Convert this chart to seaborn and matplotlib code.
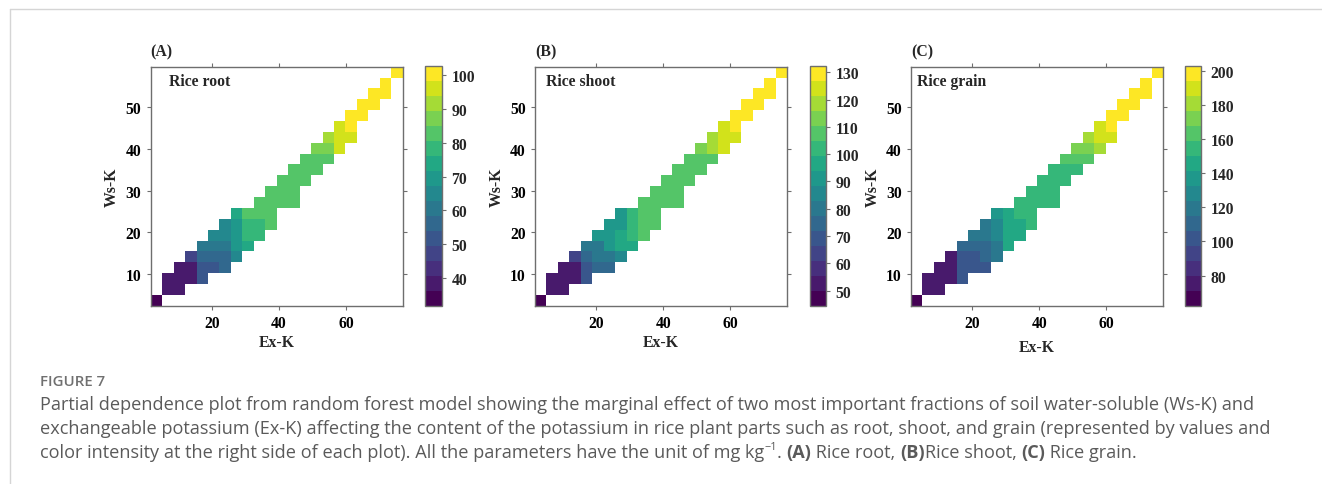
import numpy as np
import pandas as pd
import matplotlib
matplotlib.use("Agg")
import matplotlib.pyplot as plt
from matplotlib.lines import Line2D
import seaborn as sns

# ---------------- data ----------------
# Partial-dependence grid (cell centres)
ex_k = [3.5, 6.9, 10.3, 13.7, 17.1, 20.5, 24.0, 27.4, 30.8, 34.2, 37.6,
        41.0, 44.4, 47.9, 51.3, 54.7, 58.1, 61.5, 64.9, 68.4, 71.8, 75.2]
ws_k = [3.7, 6.3, 8.9, 11.5, 14.1, 16.7, 19.3, 21.9, 24.6, 27.2, 29.8,
        32.4, 35.0, 37.6, 40.2, 42.8, 45.4, 48.0, 50.6, 53.3, 55.9, 58.5]
# first Ex-K grid index that holds a value, for each Ws-K row (bottom to top)
row_start = [0, 1, 1, 2, 3, 4, 5, 6, 7, 9, 10, 11, 12, 13, 14, 15, 16, 17, 18, 19, 20, 21]

root_rows = [
    [31.8],
    [38.5, 38.8],
    [38.6, 38.9, 39.2, 51.5],
    [39.5, 40.0, 51.8, 52.3, 56.0],
    [47.0, 55.8, 56.2, 56.5, 65.0],
    [60.2, 60.5, 60.9, 69.0, 74.0],
    [64.8, 65.2, 69.5, 78.5, 79.0],
    [65.5, 69.8, 79.2, 79.6, 82.0],
    [73.5, 82.2, 82.4, 82.6],
    [82.5, 82.7, 82.8, 83.0],
    [82.8, 83.0, 83.2],
    [83.0, 83.2, 83.4],
    [83.3, 83.5, 83.7],
    [83.6, 83.8, 84.0],
    [87.0, 87.5, 96.0],
    [91.5, 95.5, 96.5],
    [96.8, 100.0],
    [100.2, 100.5],
    [100.6, 100.9],
    [101.2, 101.5],
    [101.9],
    [102.6],
]
shoot_rows = [
    [44.5],
    [52.5, 53.0],
    [53.0, 53.5, 54.0, 69.0],
    [54.0, 54.5, 69.5, 74.5, 75.0],
    [63.5, 74.8, 80.0, 80.5, 86.0],
    [80.0, 80.5, 91.0, 96.0, 97.0],
    [90.5, 91.0, 96.5, 102.0, 107.5],
    [91.5, 92.0, 102.5, 107.8, 108.0],
    [92.5, 103.0, 108.2, 108.4],
    [108.0, 108.3, 108.6, 108.9],
    [108.5, 108.8, 109.0],
    [108.8, 109.0, 109.3],
    [109.0, 109.3, 109.6],
    [109.3, 109.6, 109.9],
    [113.0, 118.5, 124.0],
    [119.0, 124.2, 124.5],
    [124.8, 129.0],
    [129.3, 129.6],
    [129.9, 130.2],
    [130.5, 130.9],
    [131.4],
    [132.2],
]
grain_rows = [
    [62.4],
    [75.0, 75.5],
    [75.5, 76.0, 76.5, 101.0],
    [76.5, 77.0, 101.5, 102.0, 102.5],
    [77.5, 102.5, 103.0, 110.5, 119.0],
    [110.0, 110.5, 111.0, 119.5, 145.0],
    [119.0, 119.5, 128.0, 145.5, 146.0],
    [120.0, 128.5, 146.0, 146.5, 154.0],
    [137.0, 146.5, 154.5, 155.0],
    [154.0, 154.5, 155.0, 155.5],
    [155.0, 155.5, 156.0],
    [155.5, 156.0, 156.5],
    [156.0, 156.5, 157.0],
    [162.0, 162.5, 163.0],
    [171.0, 172.0, 180.5],
    [181.0, 189.0, 189.5],
    [190.0, 197.0],
    [197.5, 198.0],
    [198.5, 199.0],
    [199.5, 200.5],
    [201.5],
    [202.5],
]

panel_tags = ["(A)", "(B)", "(C)"]
panel_names = ["Rice root", "Rice shoot", "Rice grain"]
x_ticks = [20, 40, 60]
y_ticks = [10, 20, 30, 40, 50]
cbar_ticks = [[40, 50, 60, 70, 80, 90, 100],
              [50, 60, 70, 80, 90, 100, 110, 120, 130],
              [80, 100, 120, 140, 160, 180, 200]]

# ---------------- layout ----------------
W, H = 1322, 485
sns.set_theme(style="white")
plt.rcParams['font.family'] = ['Liberation Serif', 'DejaVu Serif']

fig = plt.figure(figsize=(W / 100, H / 100), dpi=100)
fig.patch.set_facecolor("white")


def rect(l, t, r, b):
    return [l / W, 1 - b / H, (r - l) / W, (b - t) / H]


plot_px = [(150.7, 67.7, 402.7, 306.7), (535.0, 67.7, 787.0, 306.7), (911.0, 67.7, 1163.0, 306.7)]
cbar_px = [(425.0, 67.3, 442.0, 306.7), (810.3, 67.3, 826.3, 306.7), (1185.3, 67.3, 1201.3, 306.7)]
name_x = [0.071, 0.045, 0.025]
xlabel_pad = [2.0, 2.0, 6.0]

cmap = matplotlib.colormaps['viridis'].resampled(16)
frame_col = "#6e6e6e"
FS = 11.3

for i, rows in enumerate([root_rows, shoot_rows, grain_rows]):
    grid = np.full((len(ws_k), len(ex_k)), np.nan)
    for j, (s, vals) in enumerate(zip(row_start, rows)):
        grid[j, s:s + len(vals)] = vals
    df = pd.DataFrame(grid, index=ws_k, columns=ex_k)

    ax = fig.add_axes(rect(*plot_px[i]))
    cax = fig.add_axes(rect(*cbar_px[i]))
    sns.heatmap(df, ax=ax, cbar_ax=cax, cmap=cmap,
                vmin=np.nanmin(grid), vmax=np.nanmax(grid),
                xticklabels=False, yticklabels=False, linewidths=0)
    ax.invert_yaxis()

    xpos = np.interp(x_ticks, ex_k, np.arange(len(ex_k)) + 0.5)
    ypos = np.interp(y_ticks, ws_k, np.arange(len(ws_k)) + 0.5)
    ax.set_xticks(xpos, [str(v) for v in x_ticks], fontweight="bold", fontsize=FS)
    ax.set_yticks(ypos, [str(v) for v in y_ticks], fontweight="bold", fontsize=FS, rotation=0)
    for sp in ax.spines.values():
        sp.set_visible(True)
        sp.set_color(frame_col)
        sp.set_linewidth(1.0)
    ax.tick_params(axis="both", which="both", direction="out", length=3.2, width=0.8,
                   color=frame_col, bottom=True, left=True, top=True, right=True,
                   labelbottom=True, labelleft=True, labeltop=False, labelright=False,
                   pad=3.5, labelcolor="black")
    ax.set_xlabel("Ex-K", fontweight="bold", fontsize=FS, labelpad=xlabel_pad[i])
    ax.set_ylabel("Ws-K", fontweight="bold", fontsize=FS, labelpad=4)

    ax.text(name_x[i], 0.94, panel_names[i], transform=ax.transAxes,
            ha="left", va="center", fontsize=FS, fontweight="bold")
    fig.text(plot_px[i][0] / W, 1 - 52.5 / H, panel_tags[i], ha="left", va="center",
             fontsize=FS, fontweight="bold")

    cb = ax.collections[0].colorbar
    cb.set_ticks(cbar_ticks[i])
    cb.outline.set_visible(True)
    cb.outline.set_edgecolor(frame_col)
    cb.outline.set_linewidth(1.0)
    cb.ax.tick_params(direction="out", length=3.2, width=0.8, color=frame_col,
                      labelsize=FS, pad=3.5, right=True)
    for lab in cb.ax.get_yticklabels():
        lab.set_fontweight("bold")

# ---------------- page frame ----------------
fig.add_artist(Line2D([10 / W, 1.0], [1 - 10 / H, 1 - 10 / H], color="#d5d5d5", lw=1.0))
fig.add_artist(Line2D([10 / W, 10 / W], [0.0, 1 - 10 / H], color="#d5d5d5", lw=1.0))

# ---------------- caption ----------------
cap_font = ['Open Sans', 'DejaVu Sans']
cap_col = "#5a5a5a"
CFS = 13.1
fig.text(40 / W, 1 - 382 / H, "FIGURE 7", ha="left", va="center", family=cap_font,
         fontsize=10.8, color="#707070", fontweight="semibold")
line1 = ("Partial dependence plot from random forest model showing the marginal effect of two most "
         "important fractions of soil water-soluble (Ws-K) and")
line2 = ("exchangeable potassium (Ex-K) affecting the content of the potassium in rice plant parts such "
         "as root, shoot, and grain (represented by values and")
fig.text(40 / W, 1 - 405 / H, line1, ha="left", va="center", family=cap_font, fontsize=CFS, color=cap_col)
fig.text(40 / W, 1 - 429 / H, line2, ha="left", va="center", family=cap_font, fontsize=CFS, color=cap_col)

pieces = [
    ("color intensity at the right side of each plot). All the parameters have the unit of mg kg", "normal", CFS, 0),
    ("\u22121", "normal", CFS * 0.6, 5.5),
    (". ", "normal", CFS, 0),
    ("(A)", "bold", CFS, 0),
    (" Rice root, ", "normal", CFS, 0),
    ("(B)", "bold", CFS, 0),
    ("Rice shoot, ", "normal", CFS, 0),
    ("(C)", "bold", CFS, 0),
    (" Rice grain.", "normal", CFS, 0),
]
fig.canvas.draw()
renderer = fig.canvas.get_renderer()
xcur = 40.0
for txt, weight, size, rise in pieces:
    t = fig.text(xcur / W, 1 - (453 - rise) / H, txt, ha="left", va="center", family=cap_font,
                 fontsize=size, color=cap_col, fontweight=weight)
    bb = t.get_window_extent(renderer=renderer)
    xcur += bb.width

fig.savefig("out.png", dpi=100, facecolor="white")
